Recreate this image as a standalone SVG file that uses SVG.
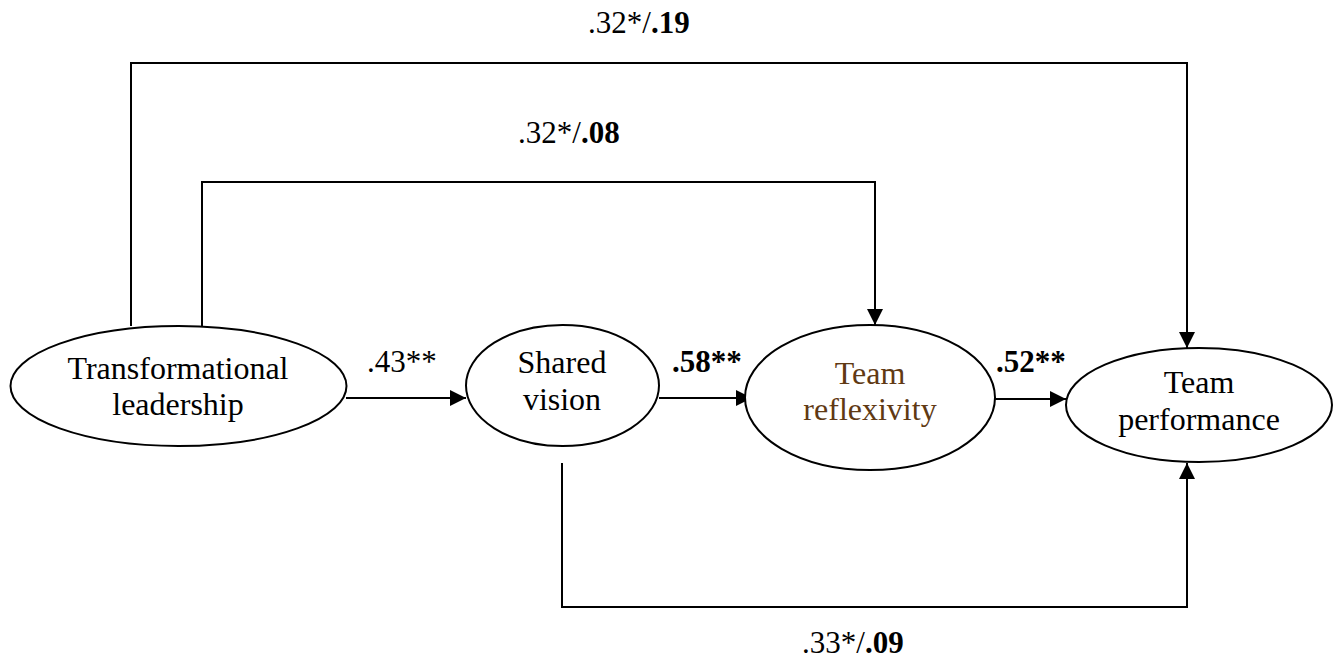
<svg xmlns="http://www.w3.org/2000/svg" width="1335" height="662" viewBox="0 0 1335 662">
  <style>
    .node { fill: #ffffff; stroke: #000000; stroke-width: 2; }
    .lbl { font-family: "Liberation Serif", "Times New Roman", serif; font-size: 31px; fill: #000000; }
    .name { font-size: 32px; }
    .mid { text-anchor: middle; }
    .b { font-weight: bold; }
    .brown { fill: #603913; }
    .wire { fill: none; stroke: #000000; stroke-width: 2; }
  </style>
  <defs>
    <marker id="arrow" markerWidth="16" markerHeight="16" refX="16" refY="8" orient="auto" markerUnits="userSpaceOnUse">
      <path d="M0,0 L16,8 L0,16 Z" fill="#000000"/>
    </marker>
  </defs>

  <rect width="1335" height="662" fill="#ffffff"/>

  <!-- connectors -->
  <g id="connectors">
    <path class="wire" d="M131,326 V63 H1187 V348" marker-end="url(#arrow)"/>
    <path class="wire" d="M202,326 V182 H875 V325" marker-end="url(#arrow)"/>
    <path class="wire" d="M562,463 V607 H1187 V463" marker-end="url(#arrow)"/>
    <path class="wire" d="M346,398 H466" marker-end="url(#arrow)"/>
    <path class="wire" d="M659,398 H752" marker-end="url(#arrow)"/>
    <path class="wire" d="M995,399 H1066" marker-end="url(#arrow)"/>

    <text class="lbl" x="588" y="33">.32*/<tspan class="b">.19</tspan></text>
    <text class="lbl" x="518" y="143">.32*/<tspan class="b">.08</tspan></text>
    <text class="lbl" x="802" y="653">.33*/<tspan class="b">.09</tspan></text>
    <text class="lbl" x="367" y="372">.43**</text>
    <text class="lbl b" x="672" y="372">.58**</text>
    <text class="lbl b" x="996" y="372">.52**</text>
  </g>

  <!-- nodes -->
  <g id="transformational-leadership">
    <ellipse class="node" cx="178.5" cy="386" rx="168" ry="60"/>
    <text class="lbl name mid" x="178" y="379">Transformational</text>
    <text class="lbl name mid" x="178" y="415">leadership</text>
  </g>

  <g id="shared-vision">
    <ellipse class="node" cx="562.5" cy="385.5" rx="96.5" ry="60.5"/>
    <text class="lbl name mid" x="562" y="373">Shared</text>
    <text class="lbl name mid" x="562" y="410">vision</text>
  </g>

  <g id="team-reflexivity">
    <ellipse class="node" cx="870" cy="397.5" rx="125" ry="72.5"/>
    <text class="lbl name mid brown" x="870" y="384">Team</text>
    <text class="lbl name mid brown" x="870" y="420">reflexivity</text>
  </g>

  <g id="team-performance">
    <ellipse class="node" cx="1199" cy="405" rx="133" ry="57"/>
    <text class="lbl name mid" x="1199" y="393">Team</text>
    <text class="lbl name mid" x="1199" y="430">performance</text>
  </g>
</svg>
